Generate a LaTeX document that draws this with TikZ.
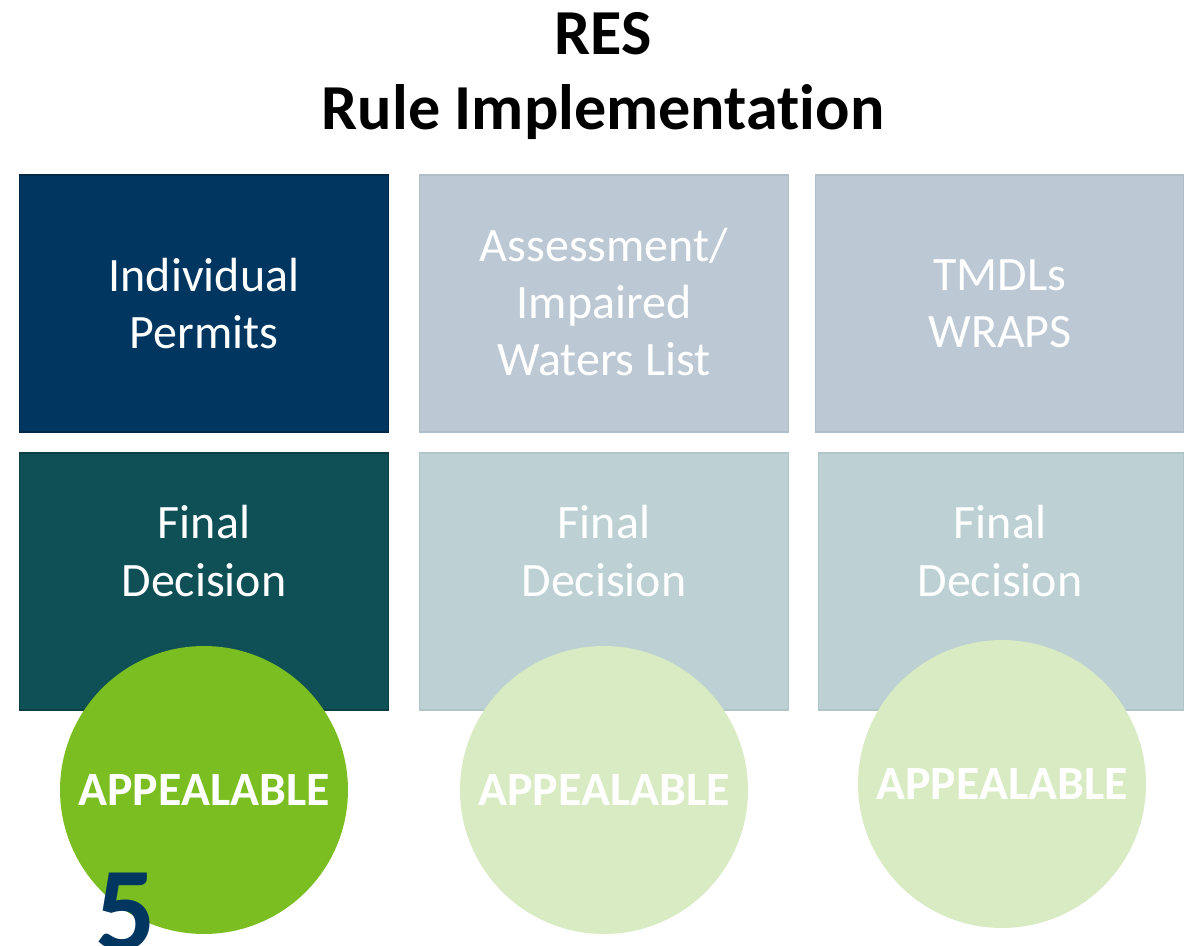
\documentclass[tikz,border=0pt]{standalone}
\usepackage{fontspec}
\setmainfont{Carlito}[Ligatures=NoCommon]
\definecolor{navy}{HTML}{003660}
\definecolor{navyline}{HTML}{012A4A}
\definecolor{teal}{HTML}{0E5055}
\definecolor{tealline}{HTML}{0A3F43}
\definecolor{paleblue}{HTML}{BCC9D4}
\definecolor{palebluel}{HTML}{B0BEC9}
\definecolor{paleteal}{HTML}{BDD0D3}
\definecolor{paleteall}{HTML}{B1C5C8}
\definecolor{lime}{HTML}{7BBE21}
\definecolor{palelime}{HTML}{D9EBC3}
\tikzset{
  box/.style={rectangle,minimum width=7.4cm,minimum height=5.14cm,line width=0.6pt},
  boxtext/.style={text=white,align=center,font=\fontsize{27.3}{32.5}\selectfont},
  disc/.style={circle,minimum size=5.76cm,inner sep=0pt},
  disctext/.style={text=white,font=\fontsize{27.2}{32}\selectfont\bfseries}
}
\begin{document}
\begin{tikzpicture}[x=0.02cm,y=-0.02cm]
      \useasboundingbox[fill=white] (0,0) rectangle (1188,946);
      \node[align=center,font=\fontsize{36.5}{42.5}\selectfont\bfseries] (title)
        at (603,76) {RES\\Rule Implementation};
      % top row
      \node[box,fill=navy,draw=navyline] (ip) at (204,303.5) {};
      \node[box,fill=paleblue,draw=palebluel] (aw) at (604,303.5) {};
      \node[box,fill=paleblue,draw=palebluel,minimum width=7.38cm] (tw) at (999.5,303.5) {};
      \node[boxtext] (iptext) at (ip.center) {Individual\\Permits};
      \node[boxtext] (awtext) at (604,302) {Assessment/\\Impaired\\Waters List};
      \node[boxtext] (twtext) at (1000,303.5) {TMDLs\\WRAPS};
      % bottom row
      \node[box,fill=teal,draw=tealline] (fd1) at (204,581.5) {};
      \node[box,fill=paleteal,draw=paleteall] (fd2) at (604,581.5) {};
      \node[box,fill=paleteal,draw=paleteall,minimum width=7.32cm] (fd3) at (1001,581.5) {};
      \node[boxtext] (fd1text) at (204,551) {Final\\Decision};
      \node[boxtext] (fd2text) at (604,551) {Final\\Decision};
      \node[boxtext] (fd3text) at (1000,551) {Final\\Decision};
      % circles
      \node[disc,fill=lime] (ap1) at (204,790) {};
      \node[disc,fill=palelime] (ap2) at (604,790) {};
      \node[disc,fill=palelime] (ap3) at (1002,784) {};
      \node[disctext] (ap1text) at (ap1.center) {APPEALABLE};
      \node[disctext] (ap2text) at (ap2.center) {APPEALABLE};
      \node[disctext] (ap3text) at (ap3.center) {APPEALABLE};
      \node[text=navy,font=\fontsize{68}{70}\selectfont\bfseries,anchor=base,inner sep=0pt]
        (num) at (126,950) {5};
    \end{tikzpicture}
\end{document}
